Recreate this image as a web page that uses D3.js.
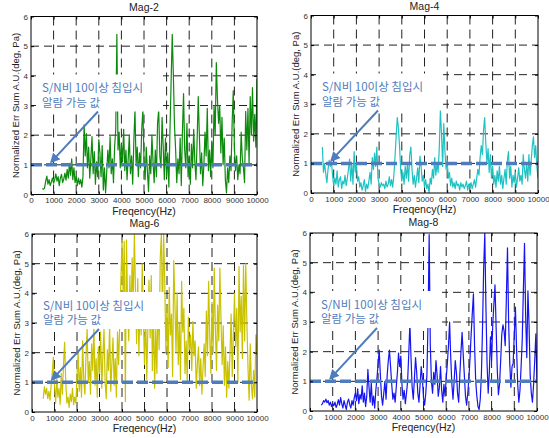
<!DOCTYPE html>
<html>
<head>
<meta charset="utf-8">
<script src="https://cdn.jsdelivr.net/npm/d3@7"></script>
<style>
  html, body { margin: 0; padding: 0; background: #fff; }
  svg { display: block; }
  .tick text { font-family: "Liberation Sans", Arial, sans-serif; font-size: 8px; fill: #333; }
</style>
</head>
<body>
<svg id="chart" width="549" height="438"></svg>
<script>
// Frequency grid (Hz): 500 .. 10000 in 50 Hz steps
const freqs = d3.range(500, 10001, 50);

const xTicks = [0, 1000, 2000, 3000, 4000, 5000, 6000, 7000, 8000, 9000, 10000];
const yTicks = [0, 1, 2, 3, 4, 5, 6];
const threshold = 1;

const mag2 = [
  0.2,0.18,0.22,0.45,0.62,0.35,0.5,0.3,0.42,0.55,
  0.38,0.5,0.7,0.45,0.6,0.3,0.55,0.68,0.4,0.52,
  0.72,0.48,0.85,0.55,1.05,0.65,1.2,0.5,0.9,0.4,
  0.6,0.3,0.55,0.35,0.5,0.25,0.6,2.35,1.3,2.05,
  0.9,1.6,0.55,1.25,1.95,0.7,1.45,0.35,1.1,0.6,
  1.85,1.4,0.6,1.65,0.15,0.9,0.05,0.75,1.5,0.9,
  1.95,0.7,1.2,0.4,1.6,2.2,5.4,1.5,2.1,0.9,
  1.7,1.1,2.2,0.8,1.5,0.5,1.2,2.0,0.7,1.3,
  0.35,1.8,2.85,1.0,1.6,0.6,1.4,0.9,2.2,2.85,
  1.2,0.5,1.6,0.8,0.1,1.3,0.7,2.0,1.1,0.4,
  1.5,0.6,2.4,2.85,1.3,0.9,2.6,1.6,0.5,1.9,
  0.6,1.4,0.25,2.2,3.8,5.4,4.0,2.3,1.5,0.4,
  1.2,0.7,1.9,0.3,2.1,3.4,1.5,0.9,2.4,0.6,
  1.3,0.35,1.7,0.9,2.2,1.1,0.5,1.8,3.3,2.0,
  0.7,1.4,0.3,1.0,2.1,1.3,2.9,0.8,1.5,0.6,
  1.8,0.9,3.0,2.0,4.45,3.2,2.4,3.0,1.4,2.6,
  1.0,1.9,0.5,0.05,0.9,0.4,1.3,0.8,2.4,3.5,
  1.6,0.8,1.3,0.5,1.0,0.7,2.1,1.2,0.9,0.4,
  2.8,1.5,2.9,1.0,3.3,2.0,3.6,1.8,2.7,1.6,
  3.9
];

const mag4 = [
  1.55,0.7,1.0,0.65,0.35,0.8,1.1,0.9,1.05,0.6,
  0.25,0.5,0.3,0.75,0.2,0.45,0.55,0.15,0.4,0.3,
  0.6,0.25,0.5,0.8,1.15,0.4,1.0,0.3,1.4,0.7,
  1.0,0.4,0.55,0.2,0.35,0.1,0.25,0.45,0.05,0.3,
  0.15,0.4,0.7,0.3,1.2,0.8,1.35,0.9,1.55,0.5,
  0.3,0.2,0.35,0.25,0.3,0.15,0.4,0.2,0.3,0.55,
  0.25,0.45,0.2,0.6,1.2,1.9,2.55,2.2,1.6,0.8,
  0.4,0.7,0.3,0.9,0.5,1.0,0.4,1.3,1.55,0.8,
  0.3,0.6,0.2,0.5,0.85,0.35,1.25,0.9,0.4,0.6,
  0.2,0.45,0.15,0.3,0.0,0.5,0.3,0.8,0.5,1.2,
  0.6,1.0,0.7,1.5,2.8,2.0,0.9,2.35,1.4,0.8,
  1.1,0.5,0.7,0.25,0.5,0.2,0.35,0.15,0.4,0.25,
  0.3,0.1,0.35,0.2,0.3,0.15,0.25,0.4,0.1,0.3,
  0.2,0.35,0.15,0.3,0.45,0.2,0.5,0.8,0.6,1.2,
  1.6,1.3,2.1,2.55,1.7,1.0,1.5,0.7,1.3,0.5,
  0.9,0.3,0.6,0.2,0.75,0.4,0.9,0.3,0.6,0.15,
  0.5,0.8,0.3,1.1,1.4,0.5,0.9,0.2,0.6,0.35,
  0.7,0.2,0.5,0.85,0.4,0.6,0.3,1.3,0.8,0.5,
  1.0,0.4,1.3,0.6,1.1,1.6,1.9,1.2,1.6,0.9,
  0.5
];

const mag6 = [
  0.45,0.85,0.6,0.8,0.45,0.7,0.4,0.9,1.3,1.85,
  0.9,0.3,1.1,0.5,0.8,0.25,1.3,0.6,1.6,2.35,
  1.0,0.3,0.5,0.15,0.6,0.35,0.8,0.25,0.5,0.3,
  1.2,2.0,0.7,1.5,0.5,2.4,1.1,0.6,1.9,2.8,
  1.0,1.7,0.6,2.3,1.4,2.9,0.9,1.8,0.5,2.2,
  1.3,2.7,0.8,1.9,2.8,1.0,0.45,2.1,1.4,2.9,
  0.7,1.6,2.5,0.9,1.8,0.5,2.7,1.6,3.0,4.4,
  5.8,3.9,5.75,0.35,5.8,3.5,2.4,4.6,3.0,5.2,
  3.7,6.0,4.1,2.3,4.5,1.9,3.8,2.6,5.0,3.2,
  1.6,3.4,1.1,2.9,4.45,2.5,4.6,1.4,3.5,0.8,
  2.8,1.3,3.9,2.1,5.2,6.0,3.1,6.0,4.4,2.0,
  3.6,1.5,4.2,2.6,3.3,1.2,5.1,3.7,2.0,4.0,
  1.6,3.0,1.1,4.4,2.7,3.5,1.3,2.4,1.0,3.2,
  2.1,2.6,1.4,3.05,1.9,2.4,0.8,1.6,2.2,0.9,
  1.8,0.6,1.5,2.3,1.2,3.4,1.9,4.4,2.5,1.3,
  3.7,2.0,4.85,2.8,1.4,3.6,2.4,4.85,3.1,1.6,
  2.9,0.9,2.2,0.5,1.7,0.8,2.0,3.3,1.2,2.6,
  4.0,2.2,3.5,1.0,4.9,2.7,3.9,1.8,4.95,2.4,
  5.0,3.0,1.5,0.4,2.3,0.9,0.45,1.4,0.5,2.6,
  1.9
];

const mag8 = [
  0.2,0.25,0.35,0.3,0.4,0.28,0.35,0.2,0.3,0.15,
  0.25,0.18,0.3,0.12,0.22,0.38,0.2,0.45,0.25,0.1,
  0.35,0.2,0.05,0.3,0.4,0.22,0.1,0.35,0.2,0.45,
  0.6,0.35,0.75,0.25,0.55,0.4,0.85,0.3,0.6,0.15,
  0.5,1.4,0.8,0.3,0.95,0.2,0.5,0.1,0.7,1.1,
  1.6,2.05,1.2,0.5,0.2,0.6,1.0,0.4,1.2,1.7,
  2.05,1.5,0.9,0.4,0.6,0.3,0.8,1.3,1.95,1.5,
  1.85,0.9,0.4,0.7,0.25,0.6,1.0,1.9,2.95,1.8,
  0.8,0.4,1.1,1.8,1.3,0.6,0.3,0.9,1.5,1.1,
  0.45,0.2,0.6,1.2,3.0,5.95,2.2,1.0,0.6,1.3,
  0.9,1.7,1.2,0.5,0.8,1.5,0.7,0.3,0.9,0.5,
  1.1,1.6,2.2,3.0,1.8,0.9,0.4,1.0,1.7,1.3,
  0.6,0.3,1.2,2.0,2.65,1.9,1.2,0.5,0.2,0.6,
  1.1,1.8,2.6,3.3,3.95,2.2,1.0,0.5,0.15,0.05,
  0.4,1.2,2.8,4.8,6.0,3.5,1.6,0.6,1.3,2.5,
  1.7,2.9,3.6,4.25,2.8,1.4,0.55,0.9,1.7,2.6,
  2.9,2.7,2.2,3.8,5.5,3.0,1.6,0.8,1.5,1.6,
  2.6,3.5,2.1,0.9,0.3,0.7,1.5,2.4,4.1,5.65,
  3.2,1.8,4.05,2.9,1.2,0.6,0.3,0.9,1.7,2.6,
  1.0
];

const panels = [
  { title: "Mag-2", values: mag2, color: "#0b8a0b", x0: 31,  x1: 257, y0: 16.5, y1: 194.5, titleGap: 5.5 },
  { title: "Mag-4", values: mag4, color: "#1fc2c2", x0: 311, x1: 538, y0: 15.5, y1: 193,   titleGap: 5.5 },
  { title: "Mag-6", values: mag6, color: "#c9c200", x0: 32,  x1: 257, y0: 234,  y1: 412,   titleGap: 7.5 },
  { title: "Mag-8", values: mag8, color: "#1414f5", x0: 310, x1: 537, y0: 233,  y1: 411,   titleGap: 7.5 }
];

const noteColor = "#4f7cbc";
const svg = d3.select("#chart");
const defs = svg.append("defs");
const intFmt = d3.format("d");

defs.append("marker")
  .attr("id", "arrowHead")
  .attr("viewBox", "0 0 10 10")
  .attr("refX", 8).attr("refY", 5)
  .attr("markerWidth", 5).attr("markerHeight", 5)
  .attr("markerUnits", "strokeWidth")
  .attr("orient", "auto")
  .append("path")
  .attr("d", "M0,0 L10,5 L0,10 Z")
  .attr("fill", noteColor);

panels.forEach((p, i) => {
  const x = d3.scaleLinear().domain([0, 10000]).range([p.x0, p.x1]);
  const y = d3.scaleLinear().domain([0, 6]).range([p.y1, p.y0]);
  const g = svg.append("g");
  const w = p.x1 - p.x0, h = p.y1 - p.y0;

  defs.append("clipPath").attr("id", "clip" + i)
    .append("rect").attr("x", p.x0).attr("y", p.y0).attr("width", w).attr("height", h);

  // dashed grid
  g.append("g").selectAll("line").data(xTicks.slice(1, -1)).join("line")
    .attr("x1", d => x(d)).attr("x2", d => x(d))
    .attr("y1", p.y0).attr("y2", p.y1)
    .attr("stroke", "#222").attr("stroke-width", 1).attr("stroke-dasharray", "9,5");
  g.append("g").selectAll("line").data(yTicks.slice(1, -1)).join("line")
    .attr("x1", p.x0).attr("x2", p.x1)
    .attr("y1", d => y(d)).attr("y2", d => y(d))
    .attr("stroke", "#222").attr("stroke-width", 1).attr("stroke-dasharray", "8,5");

  // data trace
  const line = d3.line().x((d, j) => x(freqs[j])).y(d => y(d));
  g.append("path")
    .datum(p.values)
    .attr("clip-path", `url(#clip${i})`)
    .attr("d", line)
    .attr("fill", "none")
    .attr("stroke", p.color)
    .attr("stroke-width", 1.2)
    .attr("stroke-linejoin", "round");

  // threshold line
  g.append("line")
    .attr("x1", x(0)).attr("x2", x(10000))
    .attr("y1", y(threshold)).attr("y2", y(threshold))
    .attr("stroke", noteColor).attr("stroke-width", 3.5)
    .attr("stroke-dasharray", "11,4");

  // axes (ticks inward on all sides)
  g.append("g").attr("transform", `translate(0,${p.y1})`)
    .call(d3.axisBottom(x).tickValues(xTicks).tickFormat(intFmt)
      .tickSizeInner(-3).tickSizeOuter(0).tickPadding(3));
  g.append("g").attr("transform", `translate(${p.x0},0)`)
    .call(d3.axisLeft(y).tickValues(yTicks).tickFormat(intFmt)
      .tickSizeInner(-3).tickSizeOuter(0).tickPadding(3));
  g.append("g").attr("transform", `translate(0,${p.y0})`)
    .call(d3.axisTop(x).tickValues(xTicks).tickSizeInner(-3).tickSizeOuter(0).tickFormat(""));
  g.append("g").attr("transform", `translate(${p.x1},0)`)
    .call(d3.axisRight(y).tickValues(yTicks).tickSizeInner(-3).tickSizeOuter(0).tickFormat(""));
  g.selectAll(".domain").attr("stroke", "none");
  g.selectAll(".tick line").attr("stroke", "#000");

  // frame
  g.append("rect").attr("x", p.x0).attr("y", p.y0).attr("width", w).attr("height", h)
    .attr("fill", "none").attr("stroke", "#000").attr("stroke-width", 1);

  // titles and axis labels
  g.append("text").attr("x", (p.x0 + p.x1) / 2).attr("y", p.y0 - p.titleGap)
    .attr("text-anchor", "middle")
    .attr("font-family", "Liberation Sans, Arial, sans-serif").attr("font-size", 10.5)
    .attr("fill", "#222").text(p.title);
  g.append("text").attr("x", (p.x0 + p.x1) / 2).attr("y", p.y1 + 20)
    .attr("text-anchor", "middle")
    .attr("font-family", "Liberation Sans, Arial, sans-serif").attr("font-size", 10.5)
    .attr("fill", "#222").text("Freqency(Hz)");
  g.append("text")
    .attr("transform", `translate(${p.x0 - 12.5},${(p.y0 + p.y1) / 2}) rotate(-90)`)
    .attr("text-anchor", "middle")
    .attr("font-family", "Liberation Sans, Arial, sans-serif").attr("font-size", 9.5)
    .attr("fill", "#222").text("Normalized Err Sum A.U.(deg, Pa)");

  // annotation: text box and arrow pointing at the threshold
  g.append("rect")
    .attr("x", p.x0 + 5).attr("y", p.y0 + 58).attr("width", 127).attr("height", 37)
    .attr("fill", "#fff");
  const noteFont = { family: "Noto Sans CJK KR, sans-serif", size: 11.5 };
  [["S/N비 10이상 침입시", 75.5], ["알람 가능 값", 90]].forEach(([t, dy]) => {
    g.append("text")
      .attr("x", p.x0 + 11).attr("y", p.y0 + dy)
      .attr("font-family", noteFont.family).attr("font-size", noteFont.size)
      .attr("fill", noteColor).text(t);
  });
  g.append("line")
    .attr("x1", p.x0 + 67).attr("y1", p.y0 + 95)
    .attr("x2", x(900)).attr("y2", y(threshold) - 3)
    .attr("stroke", noteColor).attr("stroke-width", 2)
    .attr("marker-end", "url(#arrowHead)");
});
</script>
</body>
</html>
